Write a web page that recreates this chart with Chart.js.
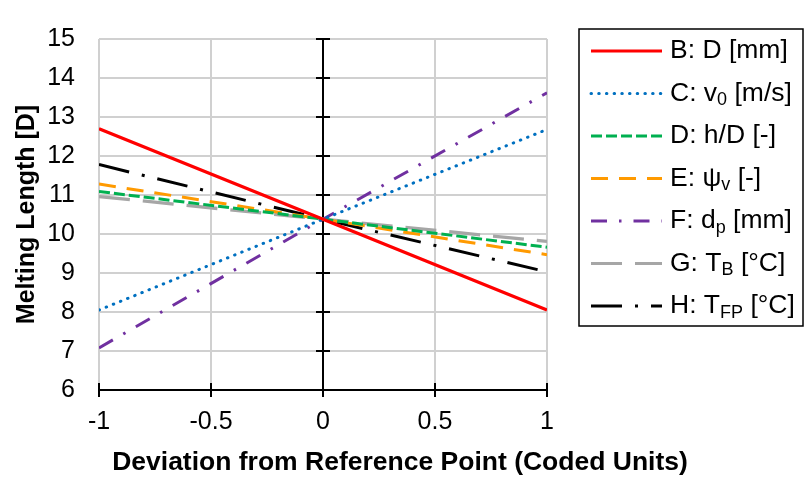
<!DOCTYPE html>
<html>
<head>
<meta charset="utf-8">
<script src="https://cdn.jsdelivr.net/npm/chart.js@4.4.1/dist/chart.umd.min.js"></script>
<style>
  html, body { margin: 0; padding: 0; background: #fff; }
  #chart { display: block; }
</style>
</head>
<body>
<canvas id="chart" width="805" height="477"></canvas>
<script>
// coded factor levels
const xValues = [-1, 0, 1];
const xTicks = [-1, -0.5, 0, 0.5, 1];
const yTicks = [6, 7, 8, 9, 10, 11, 12, 13, 14, 15];

// melting length [D] at each level, one factor varied at a time
const seriesB = [12.70, 10.38, 8.05];
const seriesC = [8.05, 10.38, 12.68];
const seriesD = [11.09, 10.38, 9.66];
const seriesE = [11.28, 10.38, 9.47];
const seriesF = [7.08, 10.38, 13.62];
const seriesG = [10.96, 10.38, 9.81];
const seriesH = [11.78, 10.38, 9.03];

// legend text: [before subscript, subscript, after subscript]
const labelB = ['B: D [mm]', '', ''];
const labelC = ['C: v', '0', ' [m/s]'];
const labelD = ['D: h/D [-]', '', ''];
const labelE = ['E: \u03C8', 'v', ' [-]'];
const labelF = ['F: d', 'p', ' [mm]'];
const labelG = ['G: T', 'B', ' [\u00B0C]'];
const labelH = ['H: T', 'FP', ' [\u00B0C]'];

const xTitle = 'Deviation from Reference Point (Coded Units)';
const yTitle = 'Melting Length [D]';

const FONT = '"Liberation Sans", Arial, sans-serif';

const styles = [
  { color: '#FF0000', dash: [], cap: 'butt', width: 3.3 },
  { color: '#0070C0', dash: [0.5, 7.2], cap: 'round', width: 3 },
  { color: '#00B050', dash: [11, 4], cap: 'butt', width: 3 },
  { color: '#FF9A00', dash: [17, 11], cap: 'butt', width: 3 },
  { color: '#7030A0', dash: [16, 12, 2.5, 12], cap: 'butt', width: 3 },
  { color: '#A6A6A6', dash: [31, 13], cap: 'butt', width: 3.3 },
  { color: '#000000', dash: [31, 13, 3, 13], cap: 'butt', width: 3 }
];

const allSeries = [seriesB, seriesC, seriesD, seriesE, seriesF, seriesG, seriesH];
const allLabels = [labelB, labelC, labelD, labelE, labelF, labelG, labelH];

const datasets = allSeries.map((vals, i) => ({
  label: allLabels[i].join(''),
  data: vals.map((v, k) => ({ x: xValues[k], y: v })),
  borderColor: styles[i].color,
  borderDash: styles[i].dash,
  borderCapStyle: styles[i].cap,
  borderWidth: styles[i].width,
  pointRadius: 0,
  tension: 0,
  fill: false
}));

// axis lines crossing at x = 0 and y = 6, with ticks on both sides
const crossAxes = {
  id: 'crossAxes',
  beforeDatasetsDraw(chart) {
    const { ctx, chartArea: a, scales: { x, y } } = chart;
    const x0 = x.getPixelForValue(0);
    const yb = y.getPixelForValue(6);
    ctx.save();
    ctx.strokeStyle = '#000';
    ctx.lineWidth = 2;
    ctx.beginPath();
    ctx.moveTo(x0, a.top);
    ctx.lineTo(x0, a.bottom);
    ctx.moveTo(a.left, yb);
    ctx.lineTo(a.right, yb);
    yTicks.forEach(v => {
      const p = y.getPixelForValue(v);
      ctx.moveTo(x0 - 7, p);
      ctx.lineTo(x0 + 7, p);
    });
    xTicks.forEach(v => {
      const p = x.getPixelForValue(v);
      ctx.moveTo(p, yb - 7);
      ctx.lineTo(p, yb + 7);
    });
    ctx.stroke();
    ctx.restore();
  }
};

// x title centred on the whole canvas, not squeezed to the plot width
const bottomTitle = {
  id: 'bottomTitle',
  afterDraw(chart) {
    const { ctx } = chart;
    ctx.save();
    ctx.fillStyle = '#000';
    ctx.font = 'bold 26.5px ' + FONT;
    ctx.textAlign = 'center';
    ctx.textBaseline = 'middle';
    ctx.fillText(xTitle, 400, 463);
    ctx.restore();
  }
};

// boxed legend to the right, with subscripts
const sideLegend = {
  id: 'sideLegend',
  afterDraw(chart) {
    const { ctx } = chart;
    const box = { x: 579, y: 29, w: 224, h: 297 };
    ctx.save();
    ctx.strokeStyle = '#000';
    ctx.lineWidth = 1.5;
    ctx.strokeRect(box.x, box.y, box.w, box.h);
    ctx.textBaseline = 'middle';
    ctx.fillStyle = '#000';
    chart.data.datasets.forEach((ds, i) => {
      const cy = 51 + i * 42.5;
      ctx.beginPath();
      ctx.strokeStyle = ds.borderColor;
      ctx.lineWidth = 3;
      ctx.lineCap = ds.borderCapStyle;
      ctx.setLineDash(ds.borderDash);
      ctx.moveTo(591, cy);
      ctx.lineTo(662, cy);
      ctx.stroke();
      ctx.setLineDash([]);
      const [pre, sub, post] = allLabels[i];
      let tx = 670;
      ctx.font = '26.5px ' + FONT;
      ctx.fillText(pre, tx, cy);
      tx += ctx.measureText(pre).width;
      if (sub) {
        ctx.font = '18px ' + FONT;
        ctx.fillText(sub, tx, cy + 7);
        tx += ctx.measureText(sub).width;
        ctx.font = '26.5px ' + FONT;
        ctx.fillText(post, tx, cy);
      }
    });
    ctx.restore();
  }
};

new Chart(document.getElementById('chart'), {
  type: 'line',
  data: { datasets },
  plugins: [crossAxes, bottomTitle, sideLegend],
  options: {
    responsive: false,
    animation: false,
    layout: { padding: { top: 20, right: 258, left: 0, bottom: 0 } },
    plugins: {
      legend: { display: false },
      tooltip: { enabled: false }
    },
    scales: {
      x: {
        type: 'linear',
        min: -1,
        max: 1,
        afterBuildTicks: s => { s.ticks = xTicks.map(v => ({ value: v })); },
        afterFit: s => { s.height = 87; },
        border: { display: false },
        grid: { color: '#d0d0d0', lineWidth: 2, drawTicks: false },
        ticks: {
          padding: 17,
          color: '#000',
          maxRotation: 0,
          autoSkip: false,
          font: { family: FONT, size: 25 },
          callback: v => String(v)
        },
        title: { display: false }
      },
      y: {
        type: 'linear',
        min: 6,
        max: 15,
        afterBuildTicks: s => { s.ticks = yTicks.map(v => ({ value: v })); },
        afterFit: s => { s.width = 99; },
        border: { display: false },
        grid: { color: '#d0d0d0', lineWidth: 2, drawTicks: false },
        ticks: {
          padding: 24,
          color: '#000',
          autoSkip: false,
          font: { family: FONT, size: 25 },
          callback: v => String(v)
        },
        title: {
          display: true,
          text: yTitle,
          color: '#000',
          font: { family: FONT, size: 25, weight: 'bold' },
          padding: { top: 12, bottom: 0 }
        }
      }
    }
  }
});
</script>
</body>
</html>
